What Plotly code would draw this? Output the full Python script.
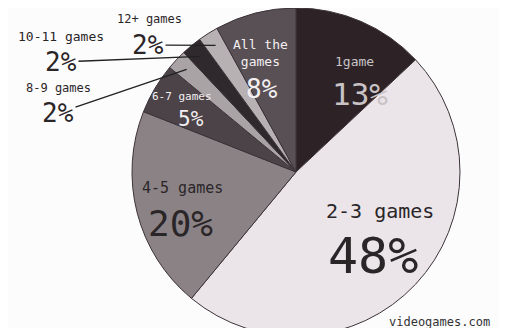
import math
import plotly.graph_objects as go

# --- data ---
categories = ["1game", "2-3 games", "4-5 games", "6-7 games", "8-9 games",
              "10-11 games", "12+ games", "All the games"]
shares = [13, 48, 20, 5, 2, 2, 2, 8]
pct_labels = ["13%", "48%", "20%", "5%", "2%", "2%", "2%", "8%"]
source_note = "videogames.com"

# --- style ---
W, H = 507, 328
MONO = "DejaVu Sans Mono"
DARK_TXT = "#2a2628"
LIGHT_TXT = "#f3eff1"
slice_colors = ["#2d2327", "#ebe5e9", "#8b8286", "#4b4347",
                "#aaa3a6", "#2f282c", "#b8b1b4", "#585055"]

# pie geometry in pixels (circle centre and radius)
CX, CY, R = 288, 164, 164


def paper(x, y):
    return x / W, 1 - y / H


# label placement: name pos, pct pos, name size, pct size, colour, leader?
label_style = {
    "1game": ((346, 53), (352, 86), 13, 31, "#c9c3c6", False),
    "2-3 games": ((372, 203), (365, 248), 20, 50, DARK_TXT, False),
    "4-5 games": ((174, 180), (172, 215), 15, 36, DARK_TXT, False),
    "6-7 games": ((174, 88), (183, 111), 11, 21, LIGHT_TXT, False),
    "8-9 games": ((50, 80), (50, 105), 12, 26, DARK_TXT, True),
    "10-11 games": ((53, 29), (53, 54), 13, 26, DARK_TXT, True),
    "12+ games": ((141, 11), (140, 37), 12, 26, DARK_TXT, True),
    "All the games": ((252, 45), (254, 81), 13, 26, LIGHT_TXT, False),
}

fig = go.Figure(
    go.Pie(
        labels=categories,
        values=shares,
        sort=False,
        direction="clockwise",
        rotation=0,
        marker=dict(colors=slice_colors, line=dict(color="#3b3337", width=1)),
        textinfo="none",
        hovertemplate="%{label}: %{percent}<extra></extra>",
        domain=dict(x=[(CX - R) / W, (CX + R) / W], y=[0, 1]),
        showlegend=False,
    )
)

annotations = []
total = sum(shares)
cum = 0
for cat, share, pct in zip(categories, shares, pct_labels):
    mid = (cum + share / 2) / total * 2 * math.pi
    cum += share
    (nx, ny), (px, py), nsize, psize, color, leader = label_style[cat]
    name = "All the<br>games" if cat == "All the games" else cat
    x, y = paper(nx, ny)
    annotations.append(dict(
        x=x, y=y, xref="paper", yref="paper", text=name, showarrow=False,
        xanchor="center", yanchor="middle",
        font=dict(family=MONO, size=nsize, color=color)))
    if leader:
        # leader line from the percentage to the slice tip
        tx = CX + 150 * math.sin(mid)
        ty = CY - 150 * math.cos(mid)
        x, y = paper(tx, ty)
        annotations.append(dict(
            x=x, y=y, xref="paper", yref="paper", text=pct,
            showarrow=True, arrowhead=0, arrowwidth=1.4, arrowcolor="#222",
            ax=px - tx, ay=py - ty, standoff=0,
            font=dict(family=MONO, size=psize, color=color)))
    else:
        x, y = paper(px, py)
        annotations.append(dict(
            x=x, y=y, xref="paper", yref="paper", text=pct, showarrow=False,
            xanchor="center", yanchor="middle",
            font=dict(family=MONO, size=psize, color=color)))

x, y = paper(484, 314)
annotations.append(dict(
    x=x, y=y, xref="paper", yref="paper", text=source_note, showarrow=False,
    xanchor="right", yanchor="middle",
    font=dict(family=MONO, size=12, color="#333")))

fig.update_layout(
    width=W,
    height=H,
    margin=dict(l=0, r=0, t=0, b=0),
    paper_bgcolor="#fdfcfd",
    plot_bgcolor="#fdfcfd",
    annotations=annotations,
)

fig.write_html("out.html")
